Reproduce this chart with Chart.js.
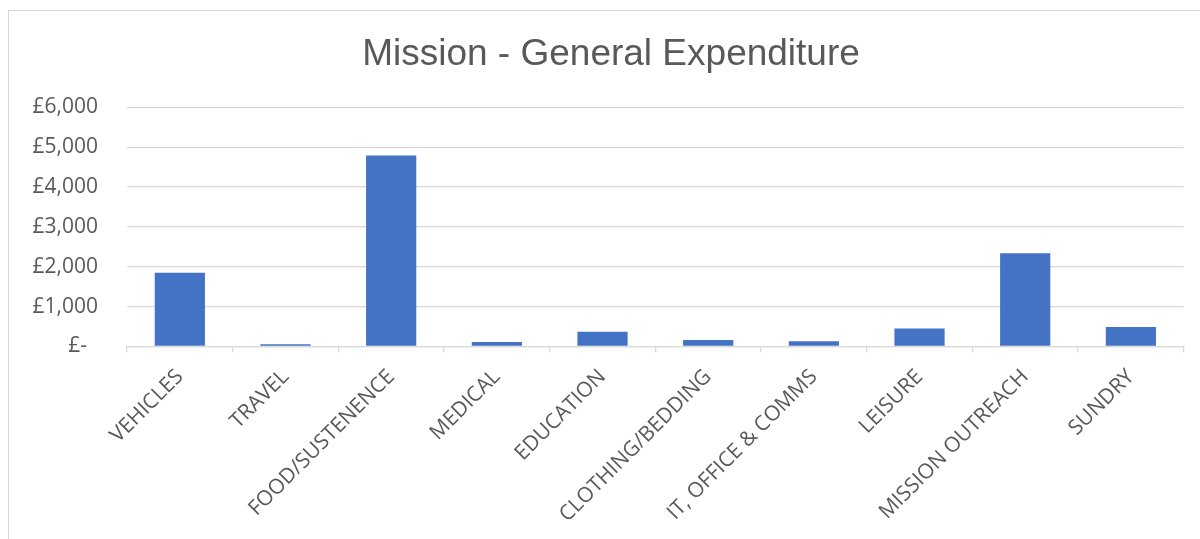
<!DOCTYPE html>
<html>
<head>
<meta charset="utf-8">
<script src="https://cdn.jsdelivr.net/npm/chart.js@4"></script>
<style>
  html, body { margin: 0; padding: 0; background: #fff; overflow: hidden; }
  #box { position: absolute; left: 8px; top: 10px; width: 1204px; height: 540px; border: 1px solid #d9d9d9; }
</style>
</head>
<body>
<div id="box"><canvas id="spend"></canvas></div>
<script>
const categories = ['VEHICLES', 'TRAVEL', 'FOOD/SUSTENENCE', 'MEDICAL', 'EDUCATION',
  'CLOTHING/BEDDING', 'IT, OFFICE & COMMS', 'LEISURE', 'MISSION OUTREACH', 'SUNDRY'];
const spend = [1850, 55, 4790, 110, 370, 160, 130, 450, 2340, 490];
const yTicks = [0, 1000, 2000, 3000, 4000, 5000, 6000];

const grey = '#595959';
const lineGrey = '#d9d9d9';

// accounting style labels, zero shows as a dash
function money(v) {
  if (v === 0) return '£-  ';
  return '£' + String(v).replace(/\B(?=(\d{3})+(?!\d))/g, ',');
}

new Chart(document.getElementById('spend').getContext('2d'), {
  type: 'bar',
  data: {
    labels: categories,
    datasets: [{
      label: 'Expenditure',
      data: spend,
      backgroundColor: '#4472c4',
      borderWidth: 0,
      categoryPercentage: 1,
      barPercentage: 0.475
    }]
  },
  options: {
    responsive: true,
    maintainAspectRatio: false,
    animation: false,
    layout: { padding: 0 },
    plugins: {
      legend: { display: false },
      tooltip: { enabled: false },
      title: {
        display: true,
        text: 'Mission - General Expenditure',
        color: grey,
        font: { family: 'Liberation Sans, Arial, sans-serif', size: 37, weight: 'normal', lineHeight: 1.2 },
        padding: { top: 22, bottom: 30 }
      }
    },
    scales: {
      x: {
        grid: { offset: true, drawOnChartArea: false, color: lineGrey, lineWidth: 1.3, tickLength: 6 },
        border: { color: lineGrey, width: 1.3 },
        ticks: {
          autoSkip: false,
          minRotation: 45,
          maxRotation: 45,
          padding: 12,
          color: grey,
          font: { family: '"Open Sans", sans-serif', size: 21 }
        },
        afterFit: (s) => { s.height = 204.5; }
      },
      y: {
        min: 0,
        max: 6000,
        afterBuildTicks: (s) => { s.ticks = yTicks.map(v => ({ value: v })); },
        grid: { color: lineGrey, lineWidth: 1.3, drawTicks: false },
        border: { display: false },
        ticks: {
          padding: 29,
          color: grey,
          font: { family: '"Open Sans", sans-serif', size: 21 },
          callback: (v) => money(v)
        },
        afterFit: (s) => { s.width = 118; }
      },
      // empty right-hand box so the plot ends where the reference does
      yRight: {
        position: 'right',
        grid: { display: false },
        border: { display: false },
        ticks: { display: false },
        afterFit: (s) => { s.width = 29.3; }
      }
    }
  }
});
</script>
</body>
</html>
